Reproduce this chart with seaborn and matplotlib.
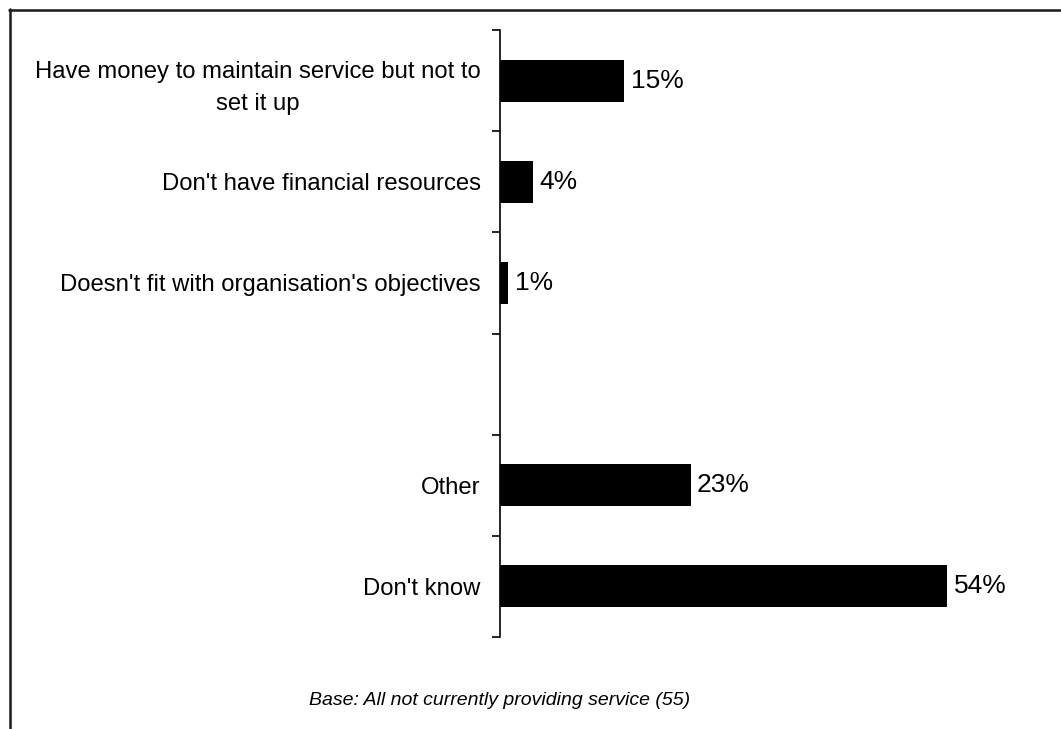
import matplotlib
matplotlib.use("Agg")
import matplotlib.pyplot as plt
from matplotlib.lines import Line2D
from matplotlib.ticker import FixedLocator
import seaborn as sns
import pandas as pd

# Reasons for not providing the service (% of respondents)
reasons = [
    "Have money to maintain service but not to\nset it up",
    "Don't have financial resources",
    "Doesn't fit with organisation's objectives",
    "Other",
    "Don't know",
]
percentages = [15, 4, 1, 23, 54]
# Display order: a blank slot separates the financial reasons from the rest
display_order = reasons[:3] + [" "] + reasons[3:]
base_note = "Base: All not currently providing service (55)"

sns.set_theme(style="white")
plt.rcParams["font.family"] = ["Liberation Sans", "DejaVu Sans"]

df = pd.DataFrame({"reason": reasons, "pct": percentages})

fig = plt.figure(figsize=(10.61, 7.29), dpi=100)
ax = fig.add_axes([0.4713, 0.1262, 0.4684, 0.8326])

sns.barplot(data=df, y="reason", x="pct", order=display_order, color="black",
            width=0.415, saturation=1, orient="h", ax=ax, linewidth=0)

ax.set_xlim(0, 60)
ax.set_ylim(len(display_order) - 0.5, -0.5)
ax.set_xlabel("")
ax.set_ylabel("")
ax.set_xticks([])

for side in ("top", "right", "bottom"):
    ax.spines[side].set_visible(False)
ax.spines["left"].set_color("black")
ax.spines["left"].set_linewidth(1.2)

# category labels, ticks drawn at the slot boundaries
ax.tick_params(axis="y", which="major", length=0, pad=14, labelsize=17.2,
               labelcolor="black")
for lbl in ax.get_yticklabels():
    lbl.set_multialignment("center")
    lbl.set_linespacing(1.6)
ax.yaxis.set_minor_locator(FixedLocator([i - 0.5 for i in range(len(display_order) + 1)]))
ax.tick_params(axis="y", which="minor", length=6, width=1.2, color="black", left=True)

# value labels at the end of each bar
for name, val in zip(reasons, percentages):
    ypos = display_order.index(name)
    ax.annotate(f"{val}%", xy=(val, ypos), xytext=(4.5, 0), textcoords="offset points",
                ha="left", va="center", fontsize=19, color="black")

fig.text(0.4705, 0.039, base_note, ha="center", va="center", fontsize=14,
         style="italic", color="black")

# outer frame (top and left edges)
fig.add_artist(Line2D([9 / 1061, 1.0], [1 - 9.5 / 729, 1 - 9.5 / 729],
                      transform=fig.transFigure, color="#1a1a1a", linewidth=1.8))
fig.add_artist(Line2D([9.5 / 1061, 9.5 / 1061], [0.0, 1 - 9 / 729],
                      transform=fig.transFigure, color="#1a1a1a", linewidth=1.8))

fig.savefig("out.png", dpi=100, facecolor="white")
